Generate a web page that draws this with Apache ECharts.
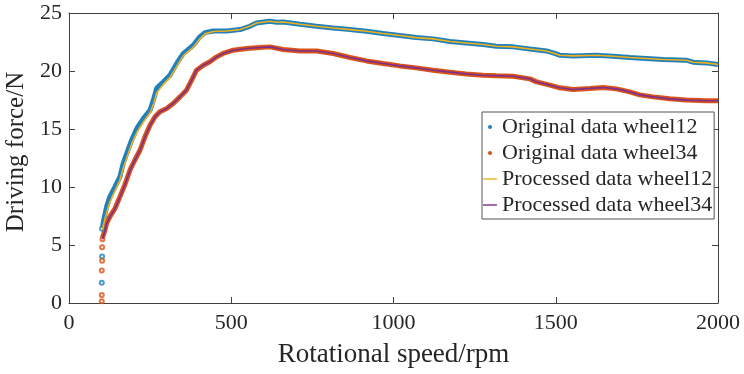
<!DOCTYPE html>
<html><head><meta charset="utf-8">
<script src="https://cdn.jsdelivr.net/npm/echarts@6/dist/echarts.min.js"></script>
<style>html,body{margin:0;padding:0;background:#fff}#c{width:744px;height:374px}</style>
</head><body><div id="c"></div>
<script>
// ---- data ----
const xTicks = [0, 500, 1000, 1500, 2000];
const yTicks = [0, 5, 10, 15, 20, 25];

const rpm12  = [103,106,116,126,142,157,167,178,193,209,229,250,260,270,291,311,332,352,383,403,419,444,486,527,557,578,619,640,660,712,763,814,866,917,968,1019,1070,1122,1174,1224,1276,1317,1369,1420,1471,1492,1512,1553,1625,1677,1728,1779,1831,1902,1923,1964,2000];
const orig12 = [6.5,7.02,8.31,9.17,10.03,10.89,12.04,12.9,14.05,15.05,15.9,16.63,17.49,18.5,19.07,19.64,20.65,21.5,22.22,22.94,23.31,23.45,23.45,23.57,23.85,24.14,24.29,24.2,24.23,24.03,23.86,23.71,23.57,23.43,23.23,23.06,22.88,22.77,22.54,22.42,22.28,22.14,22.08,21.9,21.73,21.56,21.36,21.3,21.36,21.27,21.16,21.08,20.99,20.93,20.76,20.7,20.56];
const proc12 = [6.3,6.7,7.8,8.7,9.7,10.6,11.6,12.5,13.7,14.7,15.6,16.4,17.1,18.1,18.85,19.45,20.4,21.3,22.05,22.75,23.2,23.4,23.45,23.57,23.85,24.14,24.29,24.2,24.23,24.03,23.86,23.71,23.57,23.43,23.23,23.06,22.88,22.77,22.54,22.42,22.28,22.14,22.08,21.9,21.73,21.56,21.36,21.3,21.36,21.27,21.16,21.08,20.99,20.93,20.76,20.7,20.56];

const rpm34  = [103,111,116,126,142,157,172,188,203,219,234,250,265,280,301,321,342,362,378,393,414,434,455,475,506,547,588,619,660,712,763,814,866,917,968,1019,1070,1122,1174,1224,1276,1317,1369,1420,1441,1482,1512,1553,1605,1646,1687,1728,1759,1800,1851,1902,1964,2000];
const orig34 = [5.6,6.31,6.88,7.45,8.17,9.17,10.18,11.47,12.33,13.19,14.33,15.34,16.05,16.48,16.77,17.2,17.77,18.35,19.21,20.07,20.5,20.79,21.22,21.51,21.79,21.94,22.03,22.08,21.85,21.73,21.73,21.51,21.16,20.87,20.65,20.44,20.27,20.07,19.9,19.75,19.64,19.6,19.55,19.32,19.06,18.78,18.55,18.41,18.5,18.58,18.46,18.2,17.94,17.77,17.6,17.49,17.43,17.43];
const proc34 = [5.5,6.25,6.85,7.42,8.14,9.14,10.15,11.44,12.31,13.17,14.31,15.32,16.03,16.47,16.77,17.2,17.77,18.35,19.21,20.07,20.5,20.79,21.22,21.51,21.79,21.94,22.03,22.08,21.85,21.73,21.73,21.51,21.16,20.87,20.65,20.44,20.27,20.07,19.9,19.75,19.64,19.6,19.55,19.32,19.06,18.78,18.55,18.41,18.5,18.58,18.46,18.2,17.94,17.77,17.6,17.49,17.43,17.43];

// isolated start-up points of the original data
const startRpm12 = [101,102,102];
const startVal12 = [1.75,4.0,6.4];
const startRpm34 = [101,101,101,102,102,103];
const startVal34 = [0.15,0.7,2.8,3.65,4.8,5.5];

const names = ['Original data wheel12','Original data wheel34','Processed data wheel12','Processed data wheel34'];

// ---- chart ----
const FONT = "'Liberation Serif','Times New Roman',serif";
const axisCol = '#404040', textCol = '#262626';
const c12 = '#2080bc', c34 = '#D95319', p12 = '#EDB120', p34 = '#7E2F8E';
const pair = (xs, ys) => xs.map((x, i) => [x, ys[i]]);
const dotIcon = 'path://M0,0M14,14M5,7a2,2 0 1,0 4,0a2,2 0 1,0 -4,0z';
const lineIcon = 'path://M0,0M14,14M0,6.3h14v1.4h-14z';
const plain = v => String(v);

function xAx(pos, labels) {
  return {type:'value', min:xTicks[0], max:xTicks[xTicks.length-1], interval:xTicks[1]-xTicks[0], position:pos,
    axisLine:{show:true, onZero:false, lineStyle:{color:axisCol, width:1}},
    axisTick:{show:true, inside:true, length:6, lineStyle:{color:axisCol}},
    axisLabel:{show:labels, color:textCol, fontFamily:FONT, fontSize:22, margin:9, formatter:plain},
    splitLine:{show:false}};
}
function yAx(pos, labels) {
  return {type:'value', min:yTicks[0], max:yTicks[yTicks.length-1], interval:yTicks[1]-yTicks[0], position:pos,
    axisLine:{show:true, onZero:false, lineStyle:{color:axisCol, width:1}},
    axisTick:{show:true, inside:true, length:6, lineStyle:{color:axisCol}},
    axisLabel:{show:labels, color:textCol, fontFamily:FONT, fontSize:22, margin:7, formatter:plain},
    splitLine:{show:false}};
}
const xb = xAx('bottom', true);
Object.assign(xb, {name:'Rotational speed/rpm', nameLocation:'middle', nameGap:38,
  nameTextStyle:{fontFamily:FONT, fontSize:27, color:textCol}});
const yl = yAx('left', true);
Object.assign(yl, {name:'Driving force/N', nameLocation:'middle', nameGap:31,
  nameTextStyle:{fontFamily:FONT, fontSize:25, color:textCol, padding:[0,0,0,12]}});

const chart = echarts.init(document.getElementById('c'), null, {renderer:'canvas'});
chart.setOption({
  animation:false,
  backgroundColor:'#fff',
  grid:{left:69, right:26, top:13, bottom:71, outerBoundsMode:'none'},
  xAxis:[xb, xAx('top', false)],
  yAxis:[yl, yAx('right', false)],
  legend:{orient:'vertical', left:482, top:112, padding:[4,2,3,1], itemGap:4, itemWidth:14, itemHeight:14,
    backgroundColor:'#fff', borderColor:'#555', borderWidth:1, selectedMode:false,
    textStyle:{fontFamily:FONT, fontSize:22, color:textCol, lineHeight:21},
    data:[{name:names[0], icon:dotIcon},{name:names[1], icon:dotIcon},{name:names[2], icon:lineIcon},{name:names[3], icon:lineIcon}]},
  series:[
    {name:names[0], type:'line', data:pair(rpm12, orig12), symbol:'none', lineStyle:{color:c12, width:5}, itemStyle:{color:c12}, z:2},
    {name:names[0], type:'scatter', data:pair(startRpm12, startVal12), symbol:'emptyCircle', symbolSize:4, itemStyle:{color:c12, borderWidth:1.2}, z:2},
    {name:names[1], type:'line', data:pair(rpm34, orig34), symbol:'none', lineStyle:{color:c34, width:5}, itemStyle:{color:c34}, z:2},
    {name:names[1], type:'scatter', data:pair(startRpm34, startVal34), symbol:'emptyCircle', symbolSize:4, itemStyle:{color:c34, borderWidth:1.2}, z:2},
    {name:names[2], type:'line', data:pair(rpm12, proc12), symbol:'none', lineStyle:{color:p12, width:1.6}, itemStyle:{color:p12}, z:3},
    {name:names[3], type:'line', data:pair(rpm34, proc34), symbol:'none', lineStyle:{color:p34, width:1.6}, itemStyle:{color:p34}, z:3}
  ]
});
</script></body></html>
